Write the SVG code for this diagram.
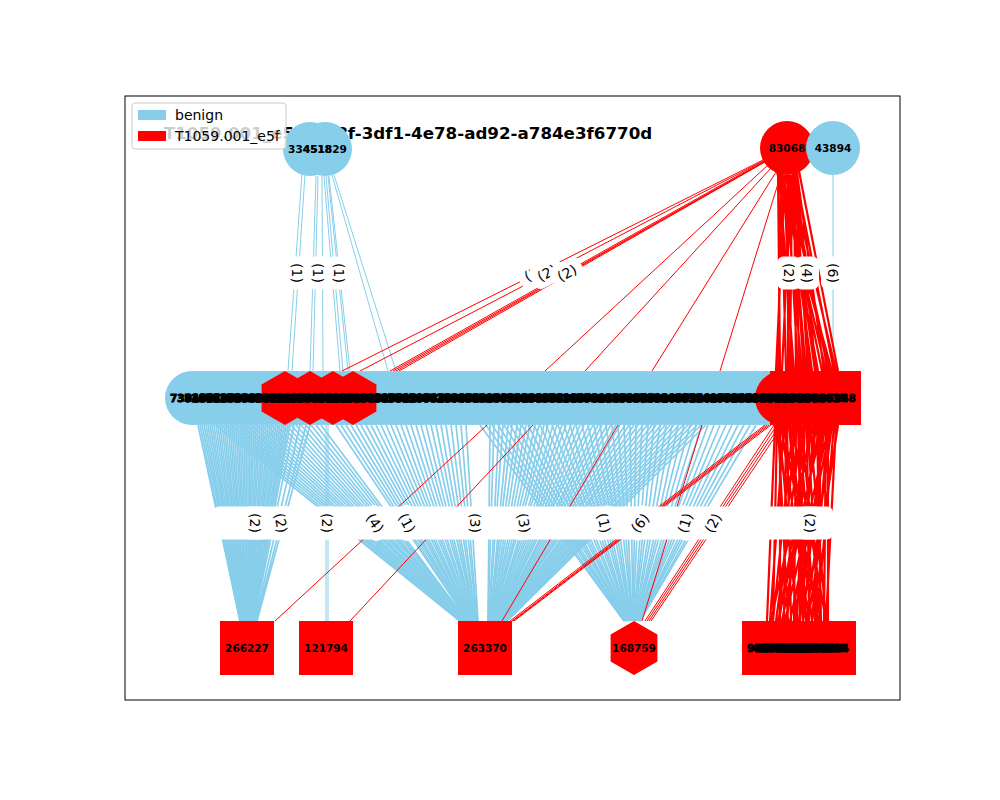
<svg xmlns="http://www.w3.org/2000/svg" width="1000" height="800" viewBox="0 0 1000 800">
<style>
.b{fill:#87ceeb}
.r{fill:#ff0000}
.eb{stroke:#87ceeb;stroke-width:1;fill:none}
.er{stroke:#ff0000;stroke-width:1;fill:none}
.fan{stroke-width:1.7}
.bun{stroke-width:2.2}
.nl{font-family:"DejaVu Sans","Liberation Sans",sans-serif;font-weight:bold;font-size:10.5px;text-anchor:middle;fill:#000}
.dense{stroke:#000;stroke-width:0.8}
.el{font-family:"DejaVu Sans","Liberation Sans",sans-serif;font-size:14px;text-anchor:middle;fill:#000}
.lb{fill:#ffffff;stroke:#ffffff}
.lg{font-family:"DejaVu Sans","Liberation Sans",sans-serif;font-size:14px;fill:#000}
</style>
<defs>
<polygon id="hex" points="0,-27 23.4,-13.5 23.4,13.5 0,27 -23.4,13.5 -23.4,-13.5"/>
<rect id="sq" x="-27" y="-27" width="54" height="54"/>
<rect id="lbox" x="-16" y="-11.5" width="32" height="23" rx="6"/>
</defs>
<rect x="0" y="0" width="1000" height="800" fill="#ffffff"/>
<rect x="125" y="96" width="775" height="604" fill="none" stroke="#000" stroke-width="1"/>
<text x="408" y="139" font-family="DejaVu Sans, Liberation Sans, sans-serif" font-weight="bold" font-size="16.7" text-anchor="middle">T1059.001_e5f9de8f-3df1-4e78-ad92-a784e3f6770d</text>

<g id="edges">
<path class="eb" d="M302 173L288 371M305 174L292 371M316 176L310 371M318 176L313 371M322 176L323 371M324 176L340 371M326 176L343 371M328 176L348 371M329 176L350 371M332 175L388 371M334 175L396 371M833 175L833 371"/>
<path class="er" d="M763 160L342 371M763 161L360 371M764 161L390 371M764 162L393 371M764 162L396 371M765 162L399 371M768 165L545 371M771 168L585 371M776 172L652 371M781 174L720 371"/>
<path class="er bun" d="M778 172L780 371M781 174L786 371M784 175L792 371M787 175L798 371M790 175L804 371M793 174L810 371M796 172L816 371M782 174L822 371M790 175L828 371M795 173L834 371M785 175L776 371M788 175L788 371M792 175L800 371M786 175L812 371M777 172L832 371M780 174L826 371M783 175L818 371M789 175L806 371M791 175L782 371M794 174L796 371M797 173L824 371M799 171L838 371M779 173L794 371M786 175L830 371M792 175L790 371M795 174L808 371M784 175L802 371M788 175L815 371M790 175L836 371M781 174L778 371"/>
<path class="eb fan" d="M198 425L240 621M202 425L241 621M206 425L241 621M210 425L242 621M214 425L242 621M218 425L243 621M222 425L244 621M226 425L244 621M230 425L245 621M234 425L245 621M238 425L246 621M242 425L247 621M246 425L247 621M250 425L248 621M254 425L248 621M258 425L249 621M262 425L250 621M266 425L250 621M270 425L251 621M274 425L251 621M278 425L252 621M282 425L253 621M286 425L253 621M290 425L254 621M300 425L255 621M306 425L256 621M310 425L257 621"/>
<path class="eb fan" d="M200 425L240 621M204 425L241 621M208 425L242 621M212 425L242 621M216 425L243 621M220 425L243 621M224 425L244 621M228 425L245 621M232 425L245 621M236 425L246 621M240 425L246 621M244 425L247 621M248 425L248 621M252 425L248 621M256 425L249 621M260 425L249 621M264 425L250 621M268 425L251 621M272 425L251 621M276 425L252 621M280 425L252 621M284 425L253 621M288 425L254 621M294 425L254 621"/>
<path class="eb" d="M326 425L326 621M328 425L328 621"/>
<path class="eb fan" d="M216 425L460 621M226 425L461 621M236 425L461 621M246 425L462 621M256 425L463 621M266 425L464 621M276 425L464 621M286 425L465 621M296 425L466 621M306 425L466 621M316 425L467 621M336 425L468 621M346 425L469 621M356 425L469 621M366 425L470 621M376 425L471 621M386 425L471 621M396 425L472 621M406 425L473 621M416 425L474 621M426 425L474 621M436 425L475 621M446 425L476 621M456 425L477 621M466 425L478 621"/>
<path class="eb fan" d="M221 425L460 621M231 425L461 621M241 425L462 621M251 425L463 621M261 425L463 621M271 425L464 621M281 425L465 621M291 425L465 621M301 425L466 621M311 425L467 621M321 425L467 621M341 425L468 621M351 425L469 621M361 425L470 621M371 425L470 621M381 425L471 621M391 425L472 621M401 425L472 621M411 425L473 621M421 425L474 621M431 425L475 621M441 425L475 621M451 425L476 621M461 425L477 621"/>
<path class="eb fan" d="M490 425L488 621M499 425L489 621M508 425L490 621M517 425L490 621M526 425L491 621M535 425L492 621M544 425L493 621M553 425L494 621M562 425L494 621M571 425L495 621M580 425L496 621M589 425L497 621M598 425L498 621M607 425L498 621M616 425L499 621M625 425L500 621M634 425L501 621M643 425L502 621M652 425L502 621M661 425L503 621M670 425L504 621M679 425L505 621M688 425L506 621M697 425L506 621M706 425L507 621"/>
<path class="eb fan" d="M494 425L488 621M503 425L489 621M512 425L490 621M521 425L491 621M530 425L492 621M539 425L493 621M548 425L493 621M557 425L494 621M566 425L495 621M575 425L496 621M584 425L497 621M593 425L497 621M602 425L498 621M611 425L499 621M620 425L500 621M629 425L501 621M638 425L501 621M647 425L502 621M656 425L503 621M665 425L504 621M674 425L505 621M683 425L505 621M692 425L506 621M701 425L507 621"/>
<path class="eb fan" d="M480 425L624 621M492 425L625 621M504 425L625 621M516 425L626 621M528 425L627 621M540 425L627 621M552 425L628 621M564 425L629 621M576 425L630 621M588 425L630 621M600 425L631 621M612 425L632 621M624 425L632 621M636 425L633 621M648 425L634 621M660 425L634 621M672 425L635 621M684 425L636 621M696 425L637 621M708 425L637 621M720 425L638 621M732 425L639 621M744 425L639 621M756 425L640 621"/>
<path class="eb fan" d="M486 425L624 621M498 425L625 621M510 425L626 621M522 425L626 621M534 425L627 621M546 425L628 621M558 425L629 621M570 425L629 621M582 425L630 621M594 425L631 621M606 425L631 621M618 425L632 621M630 425L633 621M642 425L633 621M654 425L634 621M666 425L635 621M678 425L636 621M690 425L636 621M702 425L637 621M714 425L638 621M726 425L638 621M738 425L639 621M750 425L640 621"/>
<path class="er" d="M487 425L275 621M533 425L350 621M618 425L502 621M702 425L642 621M765 425L510 621M767 425L512 621M769 425L513 621M771 425L514 621M774 425L645 621M777 425L647 621M780 425L649 621M783 425L651 621"/>
<path class="er bun" d="M775 425L767 621M778 425L788 621M781 425L809 621M784 425L770 621M787 425L791 621M790 425L812 621M793 425L773 621M796 425L794 621M799 425L815 621M802 425L776 621M805 425L797 621M808 425L818 621M811 425L779 621M814 425L800 621M817 425L821 621M820 425L782 621M823 425L803 621M826 425L824 621M829 425L785 621M832 425L806 621M780 425L780 621M800 425L800 621M820 425L820 621M828 425L828 621M777 425L773 621M779 425L797 621M783 425L818 621M786 425L784 621M789 425L806 621M792 425L826 621M795 425L779 621M798 425L803 621M801 425L821 621M804 425L787 621M807 425L809 621M810 425L826 621M813 425L771 621M816 425L795 621M819 425L815 621M822 425L778 621M825 425L799 621M828 425L812 621M831 425L790 621M834 425L817 621M836 425L826 621M838 425L808 621"/>
</g>

<g id="edge-labels">
<rect class="lb" x="213" y="507" width="522" height="32" rx="6"/>
<rect class="lb" x="763" y="507" width="70" height="32" rx="6"/>
<g transform="translate(255,523) rotate(90)"><use href="#lbox" class="lb"/><text class="el" y="5">(2)</text></g>
<g transform="translate(281,523) rotate(80)"><use href="#lbox" class="lb"/><text class="el" y="5">(2)</text></g>
<g transform="translate(327,523) rotate(90)"><use href="#lbox" class="lb"/><text class="el" y="5">(2)</text></g>
<g transform="translate(375,523) rotate(55)"><use href="#lbox" class="lb"/><text class="el" y="5">(4)</text></g>
<g transform="translate(407,523) rotate(62)"><use href="#lbox" class="lb"/><text class="el" y="5">(1)</text></g>
<g transform="translate(475,523) rotate(90)"><use href="#lbox" class="lb"/><text class="el" y="5">(3)</text></g>
<g transform="translate(524,523) rotate(80)"><use href="#lbox" class="lb"/><text class="el" y="5">(3)</text></g>
<g transform="translate(604,523) rotate(78)"><use href="#lbox" class="lb"/><text class="el" y="5">(1)</text></g>
<g transform="translate(640,523) rotate(-50)"><use href="#lbox" class="lb"/><text class="el" y="5">(6)</text></g>
<g transform="translate(685,523) rotate(-72)"><use href="#lbox" class="lb"/><text class="el" y="5">(1)</text></g>
<g transform="translate(713,523) rotate(-62)"><use href="#lbox" class="lb"/><text class="el" y="5">(2)</text></g>
<g transform="translate(810,523) rotate(90)"><use href="#lbox" class="lb"/><text class="el" y="5">(2)</text></g>
<g transform="translate(297,273) rotate(90)"><use href="#lbox" class="lb"/><text class="el" y="5">(1)</text></g>
<g transform="translate(318,273) rotate(90)"><use href="#lbox" class="lb"/><text class="el" y="5">(1)</text></g>
<g transform="translate(339,273) rotate(90)"><use href="#lbox" class="lb"/><text class="el" y="5">(1)</text></g>
<g transform="translate(534,273) rotate(-28)"><use href="#lbox" class="lb"/><text class="el" y="5">(2)</text></g>
<g transform="translate(547,273) rotate(-28)"><use href="#lbox" class="lb"/><text class="el" y="5">(2)</text></g>
<g transform="translate(567,273) rotate(-28)"><use href="#lbox" class="lb"/><text class="el" y="5">(2)</text></g>
<g transform="translate(789,273) rotate(90)"><use href="#lbox" class="lb"/><text class="el" y="5">(2)</text></g>
<g transform="translate(807,273) rotate(90)"><use href="#lbox" class="lb"/><text class="el" y="5">(4)</text></g>
<g transform="translate(833,273) rotate(90)"><use href="#lbox" class="lb"/><text class="el" y="5">(6)</text></g>
</g>

<g id="nodes">
<g id="n-334518"><circle class="b" cx="310" cy="149" r="27"/></g>
<g id="n-451829"><circle class="b" cx="325" cy="149" r="27"/></g>
<g id="n-83068"><circle class="r" cx="787" cy="148" r="27"/></g>
<g id="n-43894"><circle class="b" cx="833" cy="148" r="27"/></g>
<g id="n-739152"><circle class="b" cx="192" cy="398" r="27"/></g>
<g id="n-384021"><circle class="b" cx="199" cy="398" r="27"/></g>
<g id="n-512773"><circle class="b" cx="206" cy="398" r="27"/></g>
<g id="n-208845"><circle class="b" cx="213" cy="398" r="27"/></g>
<g id="n-671290"><circle class="b" cx="220" cy="398" r="27"/></g>
<g id="n-443018"><circle class="b" cx="227" cy="398" r="27"/></g>
<g id="n-915604"><circle class="b" cx="234" cy="398" r="27"/></g>
<g id="n-327781"><circle class="b" cx="241" cy="398" r="27"/></g>
<g id="n-580462"><circle class="b" cx="248" cy="398" r="27"/></g>
<g id="n-146937"><circle class="b" cx="255" cy="398" r="27"/></g>
<g id="n-602518"><circle class="b" cx="262" cy="398" r="27"/></g>
<g id="n-274390"><circle class="b" cx="269" cy="398" r="27"/></g>
<g id="n-853126"><circle class="b" cx="276" cy="398" r="27"/></g>
<g id="n-461085"><circle class="b" cx="283" cy="398" r="27"/></g>
<g id="n-398274"><circle class="b" cx="290" cy="398" r="27"/></g>
<g id="n-720639"><circle class="b" cx="297" cy="398" r="27"/></g>
<g id="n-185543"><circle class="b" cx="304" cy="398" r="27"/></g>
<g id="n-634207"><circle class="b" cx="311" cy="398" r="27"/></g>
<g id="n-290816"><circle class="b" cx="318" cy="398" r="27"/></g>
<g id="n-547321"><circle class="b" cx="325" cy="398" r="27"/></g>
<g id="n-812094"><circle class="b" cx="332" cy="398" r="27"/></g>
<g id="n-369458"><circle class="b" cx="339" cy="398" r="27"/></g>
<g id="n-401763"><circle class="b" cx="346" cy="398" r="27"/></g>
<g id="n-958230"><circle class="b" cx="353" cy="398" r="27"/></g>
<g id="n-263947"><circle class="b" cx="360" cy="398" r="27"/></g>
<g id="n-715082"><circle class="b" cx="367" cy="398" r="27"/></g>
<g id="n-438619"><circle class="b" cx="374" cy="398" r="27"/></g>
<g id="n-192475"><circle class="b" cx="381" cy="398" r="27"/></g>
<g id="n-586301"><circle class="b" cx="388" cy="398" r="27"/></g>
<g id="n-307742"><circle class="b" cx="395" cy="398" r="27"/></g>
<g id="n-824156"><circle class="b" cx="402" cy="398" r="27"/></g>
<g id="n-530287"><circle class="b" cx="409" cy="398" r="27"/></g>
<g id="n-641903"><circle class="b" cx="416" cy="398" r="27"/></g>
<g id="n-178364"><circle class="b" cx="423" cy="398" r="27"/></g>
<g id="n-903415"><circle class="b" cx="430" cy="398" r="27"/></g>
<g id="n-356728"><circle class="b" cx="437" cy="398" r="27"/></g>
<g id="n-482690"><circle class="b" cx="444" cy="398" r="27"/></g>
<g id="n-719043"><circle class="b" cx="451" cy="398" r="27"/></g>
<g id="n-265871"><circle class="b" cx="458" cy="398" r="27"/></g>
<g id="n-594312"><circle class="b" cx="465" cy="398" r="27"/></g>
<g id="n-837506"><circle class="b" cx="472" cy="398" r="27"/></g>
<g id="n-120694"><circle class="b" cx="479" cy="398" r="27"/></g>
<g id="n-648257"><circle class="b" cx="486" cy="398" r="27"/></g>
<g id="n-371980"><circle class="b" cx="493" cy="398" r="27"/></g>
<g id="n-506123"><circle class="b" cx="500" cy="398" r="27"/></g>
<g id="n-289734"><circle class="b" cx="507" cy="398" r="27"/></g>
<g id="n-763418"><circle class="b" cx="514" cy="398" r="27"/></g>
<g id="n-415962"><circle class="b" cx="521" cy="398" r="27"/></g>
<g id="n-932057"><circle class="b" cx="528" cy="398" r="27"/></g>
<g id="n-157386"><circle class="b" cx="535" cy="398" r="27"/></g>
<g id="n-684201"><circle class="b" cx="542" cy="398" r="27"/></g>
<g id="n-243579"><circle class="b" cx="549" cy="398" r="27"/></g>
<g id="n-801635"><circle class="b" cx="556" cy="398" r="27"/></g>
<g id="n-376810"><circle class="b" cx="563" cy="398" r="27"/></g>
<g id="n-529046"><circle class="b" cx="570" cy="398" r="27"/></g>
<g id="n-912378"><circle class="b" cx="577" cy="398" r="27"/></g>
<g id="n-138652"><circle class="b" cx="584" cy="398" r="27"/></g>
<g id="n-457923"><circle class="b" cx="591" cy="398" r="27"/></g>
<g id="n-780314"><circle class="b" cx="598" cy="398" r="27"/></g>
<g id="n-324187"><circle class="b" cx="605" cy="398" r="27"/></g>
<g id="n-695430"><circle class="b" cx="612" cy="398" r="27"/></g>
<g id="n-261508"><circle class="b" cx="619" cy="398" r="27"/></g>
<g id="n-873961"><circle class="b" cx="626" cy="398" r="27"/></g>
<g id="n-402775"><circle class="b" cx="633" cy="398" r="27"/></g>
<g id="n-158049"><circle class="b" cx="640" cy="398" r="27"/></g>
<g id="n-617382"><circle class="b" cx="647" cy="398" r="27"/></g>
<g id="n-349216"><circle class="b" cx="654" cy="398" r="27"/></g>
<g id="n-786504"><circle class="b" cx="661" cy="398" r="27"/></g>
<g id="n-231867"><circle class="b" cx="668" cy="398" r="27"/></g>
<g id="n-564093"><circle class="b" cx="675" cy="398" r="27"/></g>
<g id="n-908721"><circle class="b" cx="682" cy="398" r="27"/></g>
<g id="n-473150"><circle class="b" cx="689" cy="398" r="27"/></g>
<g id="n-315968"><circle class="b" cx="696" cy="398" r="27"/></g>
<g id="n-652407"><circle class="b" cx="703" cy="398" r="27"/></g>
<g id="n-189236"><circle class="b" cx="710" cy="398" r="27"/></g>
<g id="n-741582"><circle class="b" cx="717" cy="398" r="27"/></g>
<g id="n-426079"><circle class="b" cx="724" cy="398" r="27"/></g>
<g id="n-867314"><circle class="b" cx="731" cy="398" r="27"/></g>
<g id="n-390625"><circle class="b" cx="738" cy="398" r="27"/></g>
<g id="n-514798"><circle class="b" cx="745" cy="398" r="27"/></g>
<g id="n-275340"><circle class="b" cx="752" cy="398" r="27"/></g>
<g id="n-938162"><circle class="b" cx="759" cy="398" r="27"/></g>
<g id="n-603471"><circle class="b" cx="766" cy="398" r="27"/></g>
<g id="n-147859"><circle class="b" cx="773" cy="398" r="27"/></g>
<g id="n-826903"><circle class="b" cx="780" cy="398" r="27"/></g>
<g id="n-624190"><use href="#hex" class="r" x="285" y="398"/></g>
<g id="n-473815"><use href="#hex" class="r" x="310" y="398"/></g>
<g id="n-851027"><use href="#hex" class="r" x="333" y="398"/></g>
<g id="n-239684"><use href="#hex" class="r" x="353" y="398"/></g>
<g id="n-770352"><circle class="r" cx="782" cy="398" r="27"/></g>
<g id="n-541736"><circle class="r" cx="789" cy="398" r="27"/></g>
<g id="n-418563"><use href="#sq" class="r" x="797" y="398"/></g>
<g id="n-662079"><use href="#sq" class="r" x="804" y="398"/></g>
<g id="n-357810"><use href="#sq" class="r" x="811" y="398"/></g>
<g id="n-920463"><use href="#sq" class="r" x="818" y="398"/></g>
<g id="n-284615"><use href="#sq" class="r" x="825" y="398"/></g>
<g id="n-105948"><use href="#sq" class="r" x="834" y="398"/></g>
<g id="n-266227"><use href="#sq" class="r" x="247" y="648"/></g>
<g id="n-121794"><use href="#sq" class="r" x="326" y="648"/></g>
<g id="n-263370"><use href="#sq" class="r" x="485" y="648"/></g>
<g id="n-168759"><use href="#hex" class="r" x="634" y="648"/></g>
<g id="n-931846"><use href="#sq" class="r" x="769" y="648"/></g>
<g id="n-415087"><use href="#sq" class="r" x="774" y="648"/></g>
<g id="n-230961"><use href="#sq" class="r" x="779" y="648"/></g>
<g id="n-877412"><use href="#sq" class="r" x="784" y="648"/></g>
<g id="n-652318"><use href="#sq" class="r" x="789" y="648"/></g>
<g id="n-493027"><use href="#sq" class="r" x="794" y="648"/></g>
<g id="n-718560"><use href="#sq" class="r" x="799" y="648"/></g>
<g id="n-306984"><use href="#sq" class="r" x="804" y="648"/></g>
<g id="n-845271"><use href="#sq" class="r" x="809" y="648"/></g>
<g id="n-127639"><use href="#sq" class="r" x="814" y="648"/></g>
<g id="n-584902"><use href="#sq" class="r" x="819" y="648"/></g>
<g id="n-273158"><use href="#sq" class="r" x="824" y="648"/></g>
<g id="n-563104"><use href="#sq" class="r" x="829" y="648"/></g>
</g>

<g id="node-labels" class="nl">
<text x="310" y="153">334518</text>
<text x="325" y="153">451829</text>
<text x="787" y="152">83068</text>
<text x="833" y="152">43894</text>
<g class="dense">
<text x="192" y="402">739152</text>
<text x="199" y="402">384021</text>
<text x="206" y="402">512773</text>
<text x="213" y="402">208845</text>
<text x="220" y="402">671290</text>
<text x="227" y="402">443018</text>
<text x="234" y="402">915604</text>
<text x="241" y="402">327781</text>
<text x="248" y="402">580462</text>
<text x="255" y="402">146937</text>
<text x="262" y="402">602518</text>
<text x="269" y="402">274390</text>
<text x="276" y="402">853126</text>
<text x="283" y="402">461085</text>
<text x="290" y="402">398274</text>
<text x="297" y="402">720639</text>
<text x="304" y="402">185543</text>
<text x="311" y="402">634207</text>
<text x="318" y="402">290816</text>
<text x="325" y="402">547321</text>
<text x="332" y="402">812094</text>
<text x="339" y="402">369458</text>
<text x="346" y="402">401763</text>
<text x="353" y="402">958230</text>
<text x="360" y="402">263947</text>
<text x="367" y="402">715082</text>
<text x="374" y="402">438619</text>
<text x="381" y="402">192475</text>
<text x="388" y="402">586301</text>
<text x="395" y="402">307742</text>
<text x="402" y="402">824156</text>
<text x="409" y="402">530287</text>
<text x="416" y="402">641903</text>
<text x="423" y="402">178364</text>
<text x="430" y="402">903415</text>
<text x="437" y="402">356728</text>
<text x="444" y="402">482690</text>
<text x="451" y="402">719043</text>
<text x="458" y="402">265871</text>
<text x="465" y="402">594312</text>
<text x="472" y="402">837506</text>
<text x="479" y="402">120694</text>
<text x="486" y="402">648257</text>
<text x="493" y="402">371980</text>
<text x="500" y="402">506123</text>
<text x="507" y="402">289734</text>
<text x="514" y="402">763418</text>
<text x="521" y="402">415962</text>
<text x="528" y="402">932057</text>
<text x="535" y="402">157386</text>
<text x="542" y="402">684201</text>
<text x="549" y="402">243579</text>
<text x="556" y="402">801635</text>
<text x="563" y="402">376810</text>
<text x="570" y="402">529046</text>
<text x="577" y="402">912378</text>
<text x="584" y="402">138652</text>
<text x="591" y="402">457923</text>
<text x="598" y="402">780314</text>
<text x="605" y="402">324187</text>
<text x="612" y="402">695430</text>
<text x="619" y="402">261508</text>
<text x="626" y="402">873961</text>
<text x="633" y="402">402775</text>
<text x="640" y="402">158049</text>
<text x="647" y="402">617382</text>
<text x="654" y="402">349216</text>
<text x="661" y="402">786504</text>
<text x="668" y="402">231867</text>
<text x="675" y="402">564093</text>
<text x="682" y="402">908721</text>
<text x="689" y="402">473150</text>
<text x="696" y="402">315968</text>
<text x="703" y="402">652407</text>
<text x="710" y="402">189236</text>
<text x="717" y="402">741582</text>
<text x="724" y="402">426079</text>
<text x="731" y="402">867314</text>
<text x="738" y="402">390625</text>
<text x="745" y="402">514798</text>
<text x="752" y="402">275340</text>
<text x="759" y="402">938162</text>
<text x="766" y="402">603471</text>
<text x="773" y="402">147859</text>
<text x="780" y="402">826903</text>
<text x="285" y="402">624190</text>
<text x="310" y="402">473815</text>
<text x="333" y="402">851027</text>
<text x="353" y="402">239684</text>
<text x="782" y="402">770352</text>
<text x="789" y="402">541736</text>
<text x="797" y="402">418563</text>
<text x="804" y="402">662079</text>
<text x="811" y="402">357810</text>
<text x="818" y="402">920463</text>
<text x="825" y="402">284615</text>
<text x="834" y="402">105948</text>
<text x="769" y="652">931846</text>
<text x="774" y="652">415087</text>
<text x="779" y="652">230961</text>
<text x="784" y="652">877412</text>
<text x="789" y="652">652318</text>
<text x="794" y="652">493027</text>
<text x="799" y="652">718560</text>
<text x="804" y="652">306984</text>
<text x="809" y="652">845271</text>
<text x="814" y="652">127639</text>
<text x="819" y="652">584902</text>
<text x="824" y="652">273158</text>
<text x="827" y="652">563104</text>
</g>
<text x="247" y="652">266227</text>
<text x="326" y="652">121794</text>
<text x="485" y="652">263370</text>
<text x="634" y="652">168759</text>
</g>

<g id="legend">
<rect x="132" y="103" width="154" height="46" rx="3" fill="#ffffff" fill-opacity="0.8" stroke="#cccccc" stroke-width="1"/>
<rect x="138" y="110" width="28" height="10" class="b"/>
<text x="175" y="120" class="lg">benign</text>
<rect x="138" y="131" width="28" height="10" class="r"/>
<text x="175" y="141" class="lg">T1059.001_e5f</text>
</g>
</svg>
